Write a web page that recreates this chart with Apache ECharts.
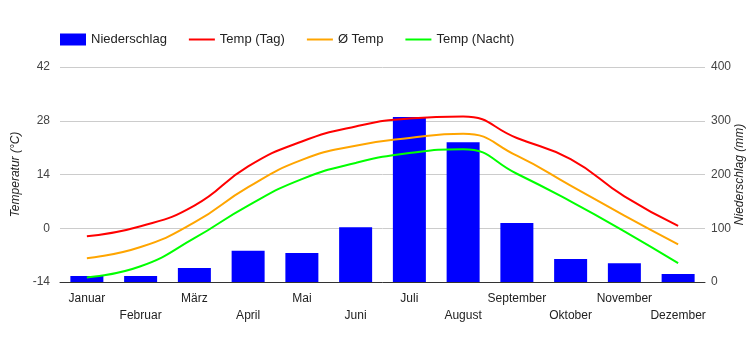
<!DOCTYPE html>
<html><head><meta charset="utf-8">
<script src="https://cdn.jsdelivr.net/npm/echarts@6/dist/echarts.min.js"></script>
<style>html,body{margin:0;padding:0;background:#fff}#c{width:750px;height:350px}</style>
</head><body><div id="c"></div>
<script>
var months = ['Januar','Februar','März','April','Mai','Juni','Juli','August','September','Oktober','November','Dezember'];
var precip = [11, 11, 26, 58, 54, 102, 307, 260, 110, 43, 35, 15];
var tempDay = [-2.1, 0.5, 5.9, 16.1, 22.6, 26.5, 28.6, 29.1, 23.5, 18.0, 8.3, 0.6];
var tempAvg = [-7.8, -4.9, 1.5, 10.7, 17.8, 21.5, 23.5, 24.6, 18.9, 11.1, 3.3, -4.2];
var tempNight = [-12.8, -9.9, -2.6, 5.9, 12.8, 17.0, 19.6, 20.6, 14.2, 7.0, -0.8, -9.1];

var font = 'Arial, "Liberation Sans", sans-serif';
var chart = echarts.init(document.getElementById('c'));
chart.setOption({
  animation: false,
  textStyle: {fontFamily: font},
  legend: {
    left: 60, top: 33, padding: 0, itemWidth: 26, itemHeight: 12, itemGap: 22,
    textStyle: {fontSize: 13, color: '#222', fontFamily: font},
    data: [
      {name: 'Niederschlag', icon: 'rect'},
      {name: 'Temp (Tag)', icon: 'path://M0,5 L26,5 L26,7 L0,7 Z'},
      {name: 'Ø Temp', icon: 'path://M0,5 L26,5 L26,7 L0,7 Z'},
      {name: 'Temp (Nacht)', icon: 'path://M0,5 L26,5 L26,7 L0,7 Z'}
    ]
  },
  grid: {left: 60, right: 45, top: 67, bottom: 68, containLabel: false, outerBoundsMode: 'none'},
  xAxis: {
    type: 'category', data: months,
    axisLine: {onZero: false, lineStyle: {color: '#333', width: 1}},
    axisTick: {show: false},
    axisLabel: {
      interval: 0, fontSize: 12, color: '#222', margin: 8, lineHeight: 17,
      formatter: function (v, i) { return i % 2 ? '\n' + v : v; }
    }
  },
  yAxis: [
    {
      type: 'value', min: -14, max: 42, interval: 14,
      name: 'Temperatur (°C)', nameLocation: 'middle', nameGap: 38, nameMoveOverlap: false,
      nameTextStyle: {fontStyle: 'italic', fontSize: 12, color: '#222'},
      axisLine: {show: false}, axisTick: {show: false},
      axisLabel: {fontSize: 12, color: '#444', margin: 10},
      splitLine: {lineStyle: {color: '#ccc'}}
    },
    {
      type: 'value', min: 0, max: 400, interval: 100,
      name: 'Niederschlag (mm)', nameLocation: 'middle', nameGap: 29, nameMoveOverlap: false,
      nameTextStyle: {fontStyle: 'italic', fontSize: 12, color: '#222'},
      axisLine: {show: false}, axisTick: {show: false},
      axisLabel: {fontSize: 12, color: '#444', margin: 6},
      splitLine: {show: false}
    }
  ],
  series: [
    {name: 'Niederschlag', type: 'bar', yAxisIndex: 1, data: precip, barWidth: 33, itemStyle: {color: '#0000ff'}},
    {name: 'Temp (Tag)', type: 'line', data: tempDay, smooth: true, showSymbol: false, symbol: 'none', lineStyle: {color: '#ff0000', width: 2}, itemStyle: {color: '#ff0000'}},
    {name: 'Ø Temp', type: 'line', data: tempAvg, smooth: true, showSymbol: false, symbol: 'none', lineStyle: {color: '#ffa500', width: 2}, itemStyle: {color: '#ffa500'}},
    {name: 'Temp (Nacht)', type: 'line', data: tempNight, smooth: true, showSymbol: false, symbol: 'none', lineStyle: {color: '#00ff00', width: 2}, itemStyle: {color: '#00ff00'}}
  ]
});
</script></body></html>
